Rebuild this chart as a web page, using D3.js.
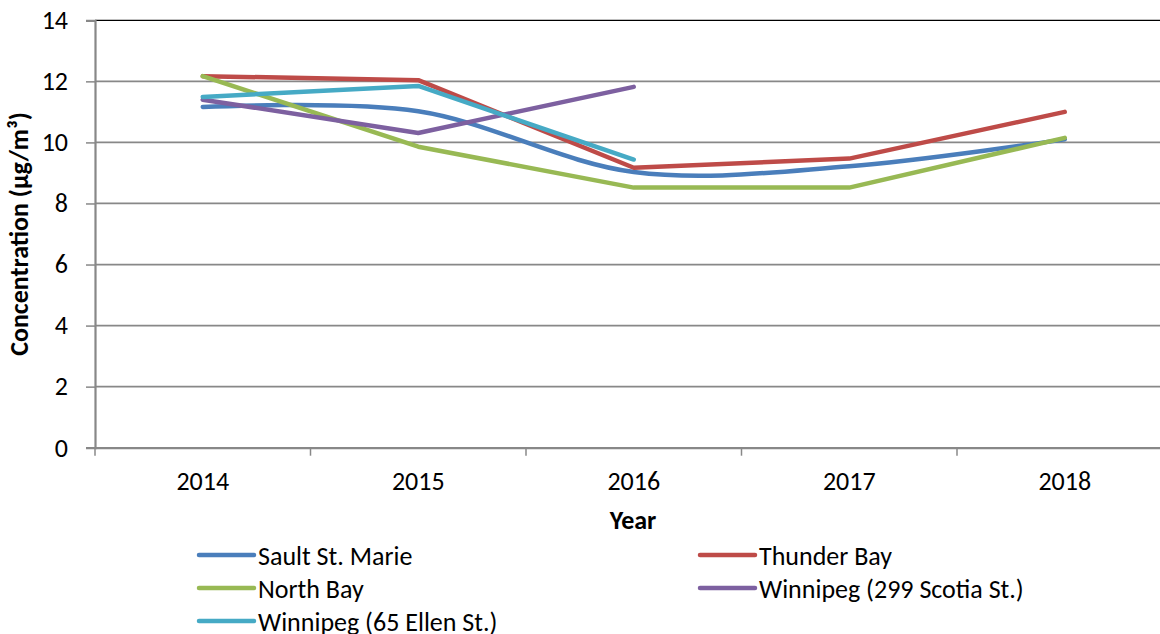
<!DOCTYPE html>
<html><head><meta charset="utf-8">
<script src="https://cdn.jsdelivr.net/npm/d3@7"></script>
<style>body{margin:0;background:#fff}svg{display:block}text{font-family:Carlito,"Liberation Sans",Arial,sans-serif}</style>
</head><body>
<svg id="c" width="1160" height="634"></svg>
<script>
const years = ["2014","2015","2016","2017","2018"];
const yTicks = [0,2,4,6,8,10,12,14];
const saultStMarie = [11.16, 11.02, 9.03, 9.22, 10.1];
const thunderBay = [12.17, 12.04, 9.17, 9.47, 11.0];
const northBay = [12.17, 9.86, 8.52, 8.52, 10.15];
const winnipegScotia = [11.4, 10.31, 11.82, null, null];
const winnipegEllen = [11.49, 11.85, 9.44, null, null];
const seriesNames = ["Sault St. Marie","Thunder Bay","North Bay","Winnipeg (299 Scotia St.)","Winnipeg (65 Ellen St.)"];
const colors = ["#4a7ebb","#be4b48","#98b954","#7d60a0","#46aac5"];
const smoothed = [true,false,false,false,false];
const seriesVals = [saultStMarie, thunderBay, northBay, winnipegScotia, winnipegEllen];

const FONT = 'Carlito,"Liberation Sans",Arial,sans-serif';
const svg = d3.select("#c");
const L = 95, R = 1172.5, T = 20.3, B = 447.7;
const x = d3.scaleBand().domain(years).range([L, R]);
const y = d3.scaleLinear().domain([0,14]).range([B, T]);

// gridlines
svg.append("g").selectAll("line").data(yTicks.filter(d=>d>0)).join("line")
  .attr("x1", L).attr("x2", R).attr("y1", d=>y(d)).attr("y2", d=>y(d))
  .attr("stroke", d=> d===14 ? "#000" : "#888").attr("stroke-width", d=> d===14 ? 1.3 : 1.8);

// y axis
const ya = svg.append("g").attr("transform", `translate(${L},0)`)
  .call(d3.axisLeft(y).tickValues(yTicks).tickSize(9).tickPadding(18));
ya.select(".domain").attr("stroke","#888").attr("stroke-width",2.2);
ya.selectAll(".tick line").attr("stroke","#888").attr("stroke-width",1.5);
ya.selectAll(".tick text").attr("font-size","26px").attr("fill","#000").style("font-family",FONT);

// x axis
const xa = svg.append("g").attr("transform", `translate(0,${B})`)
  .call(d3.axisBottom(x).tickSize(0).tickPadding(23.5));
xa.select(".domain").attr("stroke","#888").attr("stroke-width",2.2);
xa.selectAll(".tick text").attr("font-size","26px").attr("fill","#000").style("font-family",FONT);
const bounds = years.map(d=>x(d)).concat([R]);
svg.append("g").selectAll("line").data(bounds).join("line")
  .attr("x1", d=>d).attr("x2", d=>d).attr("y1", B).attr("y2", B+8)
  .attr("stroke","#888").attr("stroke-width",1.5);

// titles
svg.append("text").attr("x", 633).attr("y", 529).attr("text-anchor","middle")
  .attr("font-size","26px").attr("font-weight","bold").text("Year");
svg.append("text").attr("transform","translate(28,234) rotate(-90)").attr("text-anchor","middle")
  .attr("font-size","26px").attr("font-weight","bold").text("Concentration (µg/m³)");

// lines
const cx = d => x(d) + x.bandwidth()/2;
seriesVals.forEach((vals,i)=>{
  const pts = years.map((yr,j)=>({yr, v: vals[j]})).filter(p=>p.v!=null);
  const line = d3.line().x(p=>cx(p.yr)).y(p=>y(p.v))
    .curve(smoothed[i] ? d3.curveCatmullRom.alpha(0) : d3.curveLinear);
  svg.append("path").datum(pts).attr("d", line).attr("fill","none")
    .attr("stroke", colors[i]).attr("stroke-width", 4.5)
    .attr("stroke-linecap","round").attr("stroke-linejoin","round");
});

// legend
const legPos = [[199,555],[700,555],[199,588],[700,588],[199,621]];
seriesNames.forEach((n,i)=>{
  const [lx,ly] = legPos[i];
  svg.append("line").attr("x1",lx).attr("x2",lx+55).attr("y1",ly).attr("y2",ly)
    .attr("stroke",colors[i]).attr("stroke-width",4.5).attr("stroke-linecap","round");
  svg.append("text").attr("x",lx+59).attr("y",ly+10).attr("font-size","26px").text(n);
});
</script>
</body></html>
